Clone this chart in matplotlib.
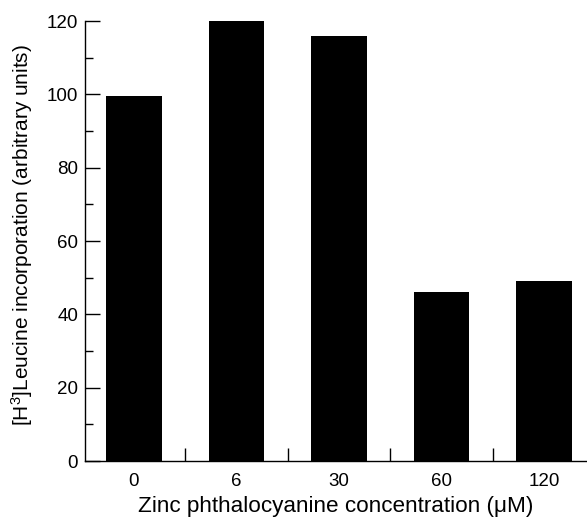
import matplotlib
matplotlib.use("Agg")
import matplotlib.pyplot as plt
import numpy as np

plt.rcParams['font.family'] = ['Liberation Sans', 'DejaVu Sans']
plt.rcParams['mathtext.fontset'] = 'custom'
plt.rcParams['mathtext.rm'] = 'Liberation Sans'
plt.rcParams['mathtext.it'] = 'Liberation Sans'

categories = ['0', '6', '30', '60', '120']
values = [99.5, 120.0, 116.0, 46.2, 49.0]

fig = plt.figure(figsize=(5.87, 5.18), dpi=100)
ax = fig.add_axes([85/587, 1-461/518, 1-85/587, (461-21)/518])

x = np.arange(len(categories))
ax.bar(x, values, width=0.54, color='black', clip_on=False)

ax.set_xlim(-0.478, 4.42)
ax.set_ylim(0, 120)

ax.spines['top'].set_visible(False)
ax.spines['right'].set_visible(False)
ax.spines['left'].set_linewidth(1.0)
ax.spines['bottom'].set_linewidth(1.0)

ax.set_xticks(x)
ax.set_xticklabels(categories)
ax.set_xticks(x[:-1] + 0.5, minor=True)
ax.tick_params(axis='x', which='major', length=0, pad=9, labelsize=13.5)
ax.tick_params(axis='x', which='minor', direction='in', length=9.5, width=1.0)

ax.set_yticks(np.arange(0, 121, 20))
ax.set_yticks(np.arange(10, 120, 20), minor=True)
ax.tick_params(axis='y', which='major', direction='in', length=10.8, width=1.0, pad=5, labelsize=13.5)
ax.tick_params(axis='y', which='minor', direction='in', length=5.8, width=1.0)

ax.set_xlabel('Zinc phthalocyanine concentration (\u03bcM)', fontsize=16.2, labelpad=4)
ax.set_ylabel('[H$^{3}$]Leucine incorporation (arbitrary units)', fontsize=15)
ax.yaxis.set_label_coords(-0.0996, 0.514)

fig.savefig('out.png', dpi=100)
